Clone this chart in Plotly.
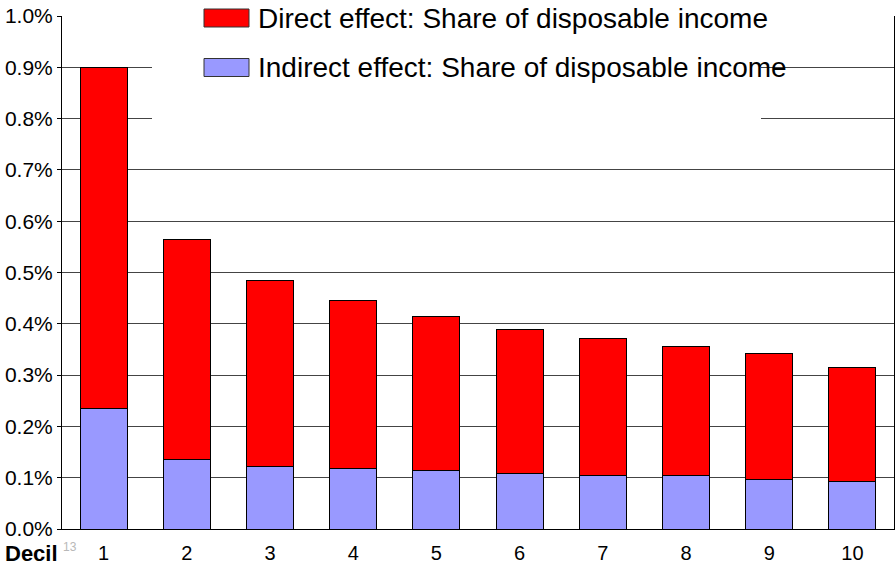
import plotly.graph_objects as go

# Income deciles and the two effects, as shares of disposable income
deciles = ["1", "2", "3", "4", "5", "6", "7", "8", "9", "10"]
indirect_share = [0.00235, 0.00136, 0.00122, 0.00118, 0.00114, 0.00108, 0.00104, 0.00104, 0.00096, 0.00093]
direct_share = [0.00665, 0.00429, 0.00363, 0.00327, 0.00301, 0.00280, 0.00267, 0.00252, 0.00246, 0.00222]
series_names = ["Direct effect: Share of disposable income",
                "Indirect effect: Share of disposable income"]
y_ticks = [i / 1000 for i in range(11)]

RED = "#FF0000"
LAVENDER = "#9999FF"
FONT = "Liberation Sans, Arial, sans-serif"

W, H = 895, 575
L, R, T, B = 62, 1, 16, 46
PW, PH = W - L - R, H - T - B


def px_x(x):
    return (x - L) / PW


def px_y(y):
    return (H - B - y) / PH


fig = go.Figure()
fig.add_trace(go.Bar(x=deciles, y=indirect_share, name=series_names[1],
                     marker=dict(color=LAVENDER, line=dict(color="#000000", width=1))))
fig.add_trace(go.Bar(x=deciles, y=direct_share, name=series_names[0],
                     marker=dict(color=RED, line=dict(color="#000000", width=1))))

# legend panel: white backing box, swatches and labels
shapes = [dict(type="rect", xref="paper", yref="paper", layer="above",
               x0=px_x(152), x1=px_x(761), y0=px_y(128), y1=px_y(0),
               fillcolor="white", line=dict(width=0))]
annotations = []
for i, (name, col) in enumerate(zip(series_names, [RED, LAVENDER])):
    top = 9 + i * 49.5
    shapes.append(dict(type="rect", xref="paper", yref="paper", layer="above",
                       x0=px_x(204), x1=px_x(249), y0=px_y(top + 18), y1=px_y(top),
                       fillcolor=col, line=dict(color="#333333", width=1)))
    annotations.append(dict(text=name, xref="paper", yref="paper",
                            x=px_x(256), y=px_y(top + 9), xanchor="left", yanchor="middle",
                            showarrow=False, font=dict(family=FONT, size=28, color="black")))

annotations.append(dict(text="<b>Decil</b>", xref="paper", yref="paper",
                        x=px_x(3), y=px_y(553), xanchor="left", yanchor="middle",
                        showarrow=False, font=dict(family=FONT, size=22, color="black")))
annotations.append(dict(text="13", xref="paper", yref="paper",
                        x=px_x(61), y=px_y(547), xanchor="left", yanchor="middle",
                        showarrow=False, font=dict(family=FONT, size=12, color="#b8b8b8")))

fig.update_layout(
    barmode="stack",
    bargap=0.435,
    width=W, height=H,
    margin=dict(l=L, r=R, t=T, b=B),
    paper_bgcolor="white", plot_bgcolor="white",
    showlegend=False,
    font=dict(family=FONT, color="black"),
    shapes=shapes,
    annotations=annotations,
    xaxis=dict(type="category", range=[-0.5, 9.5], showgrid=False,
               showline=True, linecolor="black", linewidth=1,
               ticks="", tickfont=dict(size=20), ticklabelstandoff=6),
    yaxis=dict(range=[0, 0.01], tickvals=y_ticks, tickformat=".1%",
               showgrid=True, gridcolor="#444444", gridwidth=1,
               showline=True, linecolor="black", linewidth=1, mirror=True,
               ticks="outside", ticklen=4, tickcolor="black",
               tickfont=dict(size=21), zeroline=False),
)

fig.write_html("out.html")
